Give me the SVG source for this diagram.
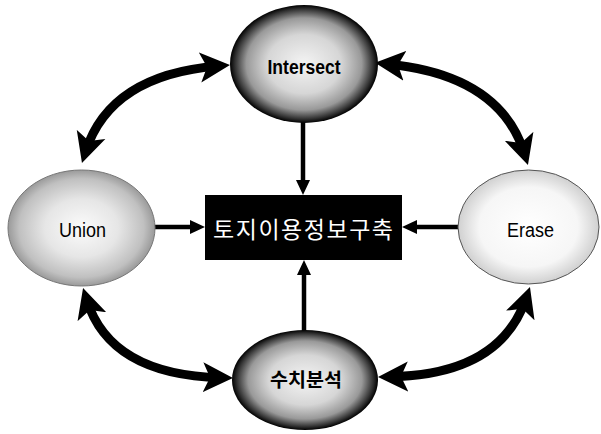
<svg xmlns="http://www.w3.org/2000/svg" width="601" height="434" viewBox="0 0 601 434">
<style>
.lbl{font-family:"Liberation Sans Narrow","Liberation Sans",Arial,sans-serif;fill:#000;text-anchor:middle}
.b{font-weight:bold}
.ko{font-family:"Noto Sans CJK KR","Noto Sans",sans-serif;text-anchor:middle}
.big{fill:none;stroke:#000;stroke-width:9}
.small{fill:none;stroke:#000;stroke-width:4.5}
</style>
<defs>
<radialGradient id="dark" cx="50%" cy="50%" r="50%">
<stop offset="0" stop-color="#f4f4f4"/>
<stop offset="0.5" stop-color="#d6d6d6"/>
<stop offset="0.78" stop-color="#999"/>
<stop offset="0.93" stop-color="#333"/>
<stop offset="1" stop-color="#000"/>
</radialGradient>
<radialGradient id="mid" cx="50%" cy="50%" r="50%">
<stop offset="0" stop-color="#fbfbfb"/>
<stop offset="0.5" stop-color="#e6e6e6"/>
<stop offset="0.85" stop-color="#c0c0c0"/>
<stop offset="1" stop-color="#9a9a9a"/>
</radialGradient>
<radialGradient id="light" cx="50%" cy="50%" r="50%">
<stop offset="0" stop-color="#fff"/>
<stop offset="0.7" stop-color="#f6f6f6"/>
<stop offset="1" stop-color="#d0d0d0"/>
</radialGradient>
<marker id="bigA" markerUnits="userSpaceOnUse" markerWidth="32" markerHeight="32" viewBox="0 -16 32 32" refX="18" refY="0" orient="auto-start-reverse">
<path d="M30,0 L0,-15 L7,0 L0,15 Z" fill="#000"/>
</marker>
<marker id="smA" markerUnits="userSpaceOnUse" markerWidth="16" markerHeight="16" viewBox="0 -8 16 16" refX="1" refY="0" orient="auto">
<path d="M15,0 L0,-7 L0,7 Z" fill="#000"/>
</marker>
</defs>
<g id="connectors">
<path class="big" d="M85.6,151.6 Q110,75 218,66" marker-start="url(#bigA)" marker-end="url(#bigA)"/>
<path class="big" d="M387,64 Q500,75 524.4,153.5" marker-start="url(#bigA)" marker-end="url(#bigA)"/>
<path class="big" d="M86.6,299.5 Q110,375 221,377.7" marker-start="url(#bigA)" marker-end="url(#bigA)"/>
<path class="big" d="M526.1,298.4 Q500,375 390,376.8" marker-start="url(#bigA)" marker-end="url(#bigA)"/>
<path class="small" d="M303,122 L303,181" marker-end="url(#smA)"/>
<path class="small" d="M154,227 L191,227" marker-end="url(#smA)"/>
<path class="small" d="M458,227 L416,227" marker-end="url(#smA)"/>
<path class="small" d="M304,331 L304,274" marker-end="url(#smA)"/>
</g>
<g id="intersect">
<ellipse cx="304" cy="64" rx="74" ry="59" fill="url(#dark)"/>
<text class="lbl b" x="304" y="74" font-size="21" textLength="73" lengthAdjust="spacingAndGlyphs">Intersect</text>
</g>
<g id="union">
<ellipse cx="81.5" cy="228" rx="73.5" ry="58" fill="url(#mid)" stroke="#777" stroke-width="1"/>
<text class="lbl" x="82.5" y="237" font-size="20" textLength="47" lengthAdjust="spacingAndGlyphs">Union</text>
</g>
<g id="erase">
<ellipse cx="528.5" cy="227" rx="70.5" ry="57" fill="url(#light)" stroke="#555" stroke-width="1"/>
<text class="lbl" x="530.5" y="237" font-size="20" textLength="47" lengthAdjust="spacingAndGlyphs">Erase</text>
</g>
<g id="analysis">
<ellipse cx="305" cy="380" rx="73" ry="50" fill="url(#dark)"/>
<text class="ko" x="306" y="387" font-size="19" font-weight="bold" fill="#000" textLength="72" lengthAdjust="spacingAndGlyphs">수치분석</text>
</g>
<g id="center">
<rect x="205" y="195" width="197" height="65" fill="#000"/>
<text class="ko" x="303" y="238" font-size="23" fill="#fff" textLength="180" lengthAdjust="spacing">토지이용정보구축</text>
</g>
</svg>
